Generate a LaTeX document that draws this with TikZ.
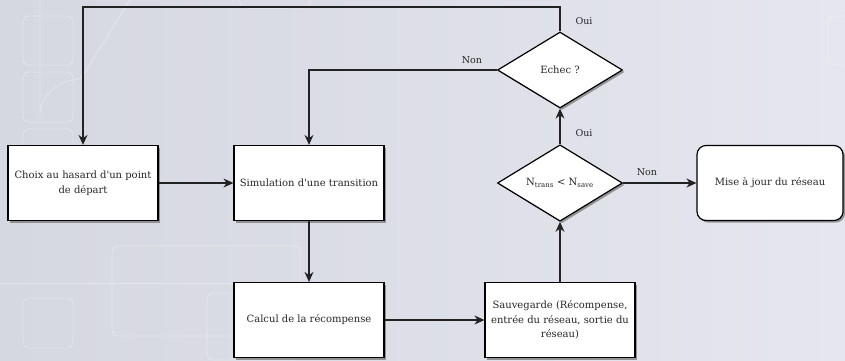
\documentclass[tikz,border=0pt]{standalone}
\usepackage{fontspec}
\setmainfont{DejaVu Serif}
\usetikzlibrary{shapes.geometric,arrows.meta,shadows}
\definecolor{bgL}{HTML}{D5D7E1}
\definecolor{bgR}{HTML}{E5E6EE}
\definecolor{ln}{HTML}{222222}
\newcommand{\apos}{\textquotesingle}
\tikzset{
  px/.style={x=1pt,y=-1pt},
  boxshadow/.style={drop shadow={shadow xshift=2pt,shadow yshift=-2pt,fill=black!55,opacity=.7}},
  procbox/.style={draw=black,line width=1.2pt,fill=white,minimum width=150pt,minimum height=75pt,inner sep=2pt,align=center,font=\fontsize{10}{14.5}\selectfont,text=black!85,boxshadow},
  roundbox/.style={procbox,rounded corners=9pt},
  decision/.style={diamond,draw=black,line width=1.2pt,fill=white,minimum width=125pt,minimum height=76pt,inner sep=0pt,align=center,font=\fontsize{10}{12.5}\selectfont,text=black!85,boxshadow},
  conn/.style={draw=ln,line width=1.2pt,-{Stealth[length=10pt,width=9pt]}},
  lbl/.style={font=\fontsize{9.5}{11}\selectfont,text=black!85,inner sep=0pt},
  deco/.style={draw=white,opacity=.35,line width=0.8pt,rounded corners=6pt}
}
\begin{document}
\begin{tikzpicture}[px]
\shade[left color=bgL,right color=bgR] (0,0) rectangle (845,360);
\useasboundingbox (0,0) rectangle (845,360);
% faint background decoration
\draw[deco] (23,16) rectangle (73,65);
\draw[deco] (23,72) rectangle (73,122);
\draw[deco] (23,129) rectangle (73,178);
\draw[deco] (23,298) rectangle (73,348);
\draw[deco] (112,246) rectangle (300,336);
\draw[deco] (207,293) rectangle (300,360);
\draw[deco] (40,-20) -- (40,120) arc (180:90:40pt) -- (130,0);
\draw[deco] (0,283) -- (250,283);
\draw[deco] (828,16) rectangle (860,65);
\draw[deco] (240,-10) rectangle (310,8);
% nodes
\node[procbox] (choix) at (83,183) {Choix au hasard d\apos un point\\de départ};
\node[procbox] (simu) at (309,183) {Simulation d\apos une transition};
\node[procbox] (calc) at (309,320) {Calcul de la récompense};
\node[procbox] (sauv) at (560,320) {Sauvegarde (Récompense,\\entrée du réseau, sortie du\\réseau)};
\node[decision,minimum height=75pt] (ntr) at (560,183) {N\textsubscript{trans} < N\textsubscript{save}};
\node[decision] (echec) at (560,70) {Echec ?};
\node[roundbox,minimum width=146pt] (maj) at (770,183) {Mise à jour du réseau};
\coordinate (tl) at (83,7);
\coordinate (tr) at (560,7);
\coordinate (nl) at (309,70);
% connectors
\draw[conn] (choix) -- (simu);
\draw[conn] (simu) -- (calc);
\draw[conn] (calc) -- (sauv);
\draw[conn] (sauv) -- (ntr);
\draw[conn] (ntr) -- (echec);
\draw[conn] (ntr) -- (maj);
\draw[conn] (echec.north) -- (tr) -- (tl) -- (choix.north);
\draw[conn] (echec.west) -- (nl) -- (simu.north);
% labels
\node[lbl] at (584,21) {Oui};
\node[lbl] at (472,60) {Non};
\node[lbl] at (584,133) {Oui};
\node[lbl] at (647,172) {Non};
\end{tikzpicture}
\end{document}
